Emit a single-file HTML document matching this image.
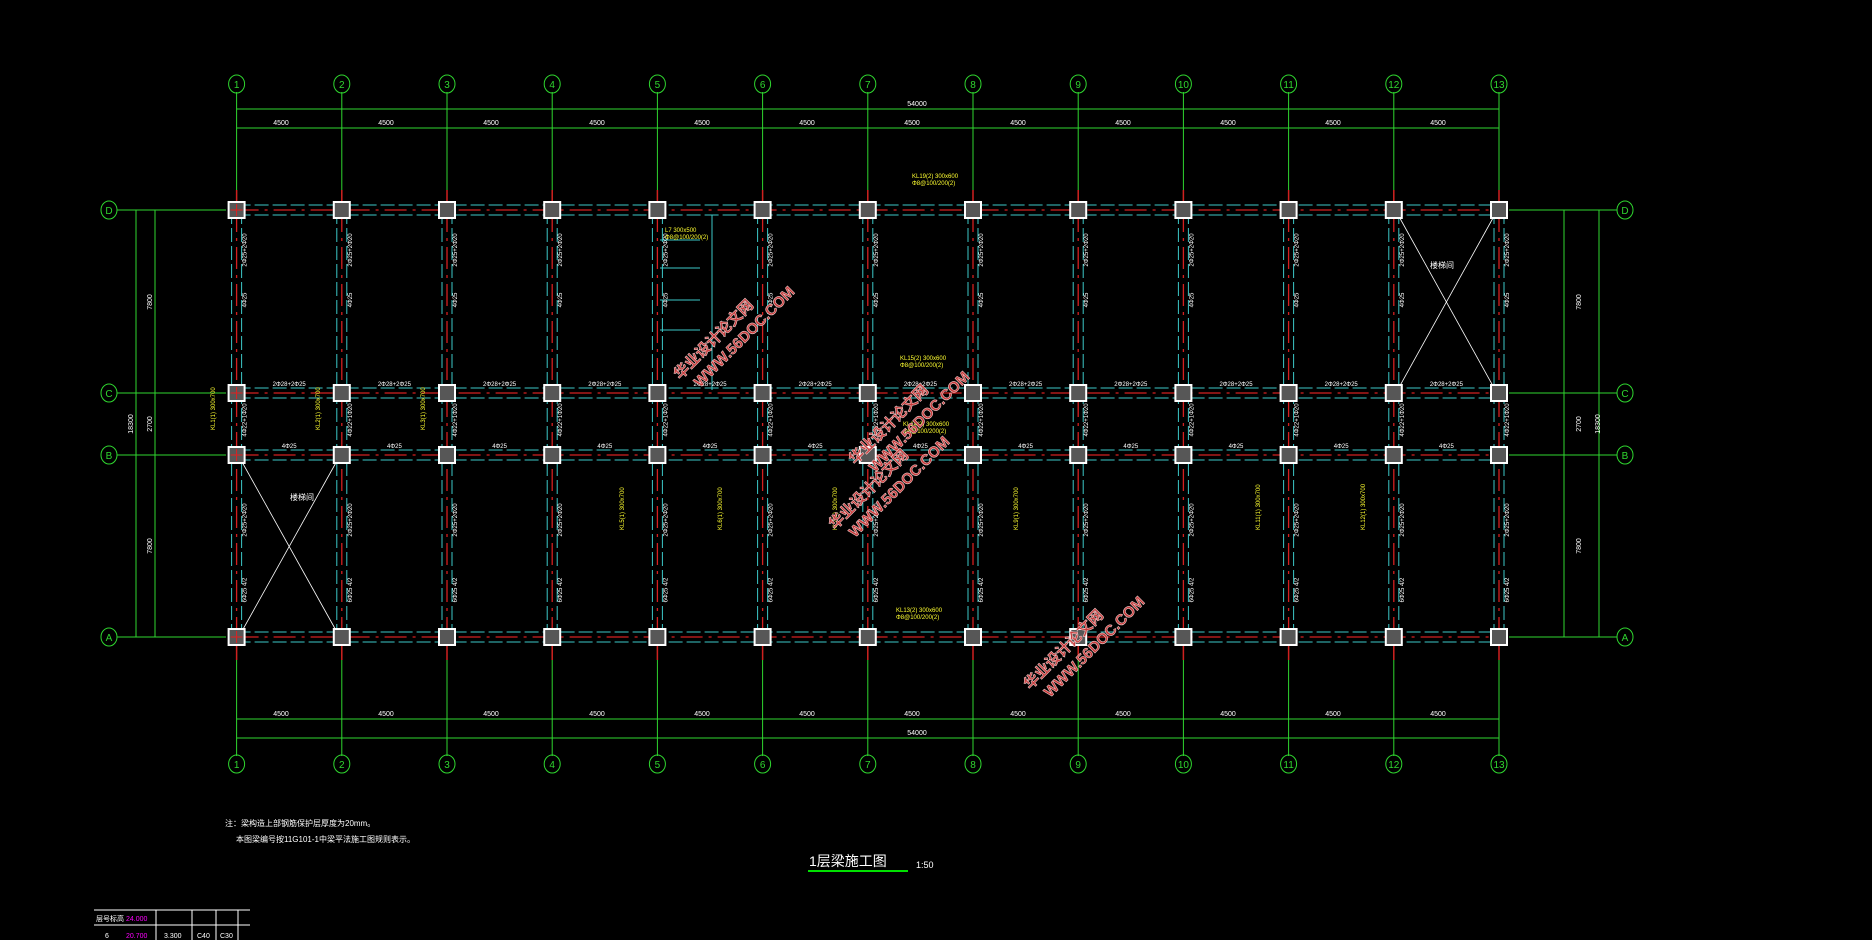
<!DOCTYPE html>
<html><head><meta charset="utf-8"><style>
html,body{margin:0;padding:0;background:#000;width:1872px;height:940px;overflow:hidden}
svg{display:block}
text{font-family:"Liberation Sans","Noto Sans CJK SC",sans-serif}
</style></head><body>
<svg id="s" width="1872" height="940" xmlns="http://www.w3.org/2000/svg">
<g id="geo"></g>
<g fill="#fff" font-size="7">
<text x="281" y="125" text-anchor="middle">4500</text><text x="386" y="125" text-anchor="middle">4500</text><text x="491" y="125" text-anchor="middle">4500</text><text x="597" y="125" text-anchor="middle">4500</text><text x="702" y="125" text-anchor="middle">4500</text><text x="807" y="125" text-anchor="middle">4500</text><text x="912" y="125" text-anchor="middle">4500</text><text x="1018" y="125" text-anchor="middle">4500</text><text x="1123" y="125" text-anchor="middle">4500</text><text x="1228" y="125" text-anchor="middle">4500</text><text x="1333" y="125" text-anchor="middle">4500</text><text x="1438" y="125" text-anchor="middle">4500</text>
<text x="917" y="106" text-anchor="middle">54000</text>
<text x="281" y="716" text-anchor="middle">4500</text><text x="386" y="716" text-anchor="middle">4500</text><text x="491" y="716" text-anchor="middle">4500</text><text x="597" y="716" text-anchor="middle">4500</text><text x="702" y="716" text-anchor="middle">4500</text><text x="807" y="716" text-anchor="middle">4500</text><text x="912" y="716" text-anchor="middle">4500</text><text x="1018" y="716" text-anchor="middle">4500</text><text x="1123" y="716" text-anchor="middle">4500</text><text x="1228" y="716" text-anchor="middle">4500</text><text x="1333" y="716" text-anchor="middle">4500</text><text x="1438" y="716" text-anchor="middle">4500</text>
<text x="917" y="735" text-anchor="middle">54000</text>
<text x="152" y="302" transform="rotate(-90 152 302)" text-anchor="middle">7800</text>
<text x="152" y="424" transform="rotate(-90 152 424)" text-anchor="middle">2700</text>
<text x="152" y="546" transform="rotate(-90 152 546)" text-anchor="middle">7800</text>
<text x="133" y="424" transform="rotate(-90 133 424)" text-anchor="middle">18300</text>
<text x="1581" y="302" transform="rotate(-90 1581 302)" text-anchor="middle">7800</text>
<text x="1581" y="424" transform="rotate(-90 1581 424)" text-anchor="middle">2700</text>
<text x="1581" y="546" transform="rotate(-90 1581 546)" text-anchor="middle">7800</text>
<text x="1600" y="424" transform="rotate(-90 1600 424)" text-anchor="middle">18300</text>
</g>
<g id="lbl" fill="#fff" font-size="6"></g>
<g fill="#fff" font-size="8">
<text x="225" y="826">注：梁构造上部钢筋保护层厚度为20mm。</text>
<text x="236" y="842">本图梁编号按11G101-1中梁平法施工图规则表示。</text>
<text x="290" y="500">楼梯间</text>
<text x="1430" y="268">楼梯间</text>
</g>
<text x="809" y="866" fill="#fff" font-size="14">1层梁施工图</text>
<line x1="808" y1="871" x2="908" y2="871" stroke="#00e000" stroke-width="2"/>
<text x="916" y="868" fill="#fff" font-size="9">1:50</text>
<g stroke="#fff" stroke-width="1" fill="none">
<line x1="94" y1="910" x2="250" y2="910"/><line x1="94" y1="925" x2="250" y2="925"/>
<line x1="156" y1="910" x2="156" y2="940"/><line x1="192" y1="910" x2="192" y2="940"/><line x1="216" y1="910" x2="216" y2="940"/><line x1="238" y1="910" x2="238" y2="940"/>
</g>
<g font-size="7"><text x="96" y="921" fill="#fff">层号标高</text><text x="126" y="921" fill="#f0f">24.000</text>
<text x="105" y="938" fill="#fff">6</text><text x="126" y="938" fill="#f0f">20.700</text><text x="164" y="938" fill="#fff">3.300</text><text x="197" y="938" fill="#fff">C40</text><text x="220" y="938" fill="#fff">C30</text></g>
<g id="wm" font-weight="bold" fill="#c83a3a" stroke="#e8c0c0" stroke-width="0.6" font-size="15"></g>
</svg>
<script>
var NS="http://www.w3.org/2000/svg",g=document.getElementById('geo');
function el(t,a,p){var e=document.createElementNS(NS,t);for(var k in a)e.setAttribute(k,a[k]);(p||g).appendChild(e);return e}
var X=[];for(var i=0;i<13;i++)X.push(236.6+i*105.2);
var Y=[210,393,455,637],R=['D','C','B','A'];
var G='#2fd62f';
X.forEach(function(x,i){
 el('line',{x1:x,y1:92,x2:x,y2:200,stroke:G});
 el('line',{x1:x,y1:647,x2:x,y2:756,stroke:G});
 el('line',{x1:x,y1:190,x2:x,y2:205,stroke:'#d02020','stroke-width':1.5});
 el('line',{x1:x,y1:645,x2:x,y2:660,stroke:'#d02020','stroke-width':1.5});
 [84,764].forEach(function(cy){el('ellipse',{cx:x,cy:cy,rx:8,ry:9,fill:'none',stroke:G});
  var t=el('text',{x:x,y:cy+4,'text-anchor':'middle',fill:G,'font-size':10});t.textContent=i+1;});
});
[109,128,719,738].forEach(function(y){el('line',{x1:X[0],y1:y,x2:X[12],y2:y,stroke:G})});
Y.forEach(function(y,j){
 el('line',{x1:117,y1:y,x2:226,y2:y,stroke:G});el('line',{x1:1509,y1:y,x2:1617,y2:y,stroke:G});
 [109,1625].forEach(function(cx){el('ellipse',{cx:cx,cy:y,rx:8,ry:9,fill:'none',stroke:G});
  var t=el('text',{x:cx,y:y+4,'text-anchor':'middle',fill:G,'font-size':10});t.textContent=R[j];});
});
[136,155,1564,1599].forEach(function(x){el('line',{x1:x,y1:210,x2:x,y2:637,stroke:G})});
var C='#3cc8c8';
Y.forEach(function(y){
 el('line',{x1:X[0],y1:y-5,x2:X[12],y2:y-5,stroke:C,'stroke-dasharray':'14 4'});
 el('line',{x1:X[0],y1:y+5,x2:X[12],y2:y+5,stroke:C,'stroke-dasharray':'14 4'});
 el('line',{x1:X[0],y1:y,x2:X[12],y2:y,stroke:'#d42020','stroke-width':1.3,'stroke-dasharray':'22 6 3 6'});
});
X.forEach(function(x){
 el('line',{x1:x-5,y1:210,x2:x-5,y2:637,stroke:C,'stroke-dasharray':'14 4'});
 el('line',{x1:x+5,y1:210,x2:x+5,y2:637,stroke:C,'stroke-dasharray':'14 4'});
 el('line',{x1:x,y1:210,x2:x,y2:637,stroke:'#d42020','stroke-width':1.3,'stroke-dasharray':'22 6 3 6'});
});
el('line',{x1:X[11]+6,y1:218,x2:X[12]-6,y2:386,stroke:'#fff','stroke-width':0.8});
el('line',{x1:X[12]-6,y1:218,x2:X[11]+6,y2:386,stroke:'#fff','stroke-width':0.8});
el('line',{x1:X[0]+6,y1:463,x2:X[1]-6,y2:630,stroke:'#fff','stroke-width':0.8});
el('line',{x1:X[1]-6,y1:463,x2:X[0]+6,y2:630,stroke:'#fff','stroke-width':0.8});
[[660,240,700,240],[660,268,700,268],[660,300,700,300],[660,330,700,330]].forEach(function(a){el('line',{x1:a[0],y1:a[1],x2:a[2],y2:a[3],stroke:C})});
el('line',{x1:712,y1:215,x2:712,y2:390,stroke:C});
X.forEach(function(x){Y.forEach(function(y){el('rect',{x:x-8,y:y-8,width:16,height:16,fill:'#575757',stroke:'#fff','stroke-width':2});});});
[[0,0],[0,1],[0,2],[0,3]].forEach(function(p){var x=X[p[0]],y=Y[p[1]];el('line',{x1:x-6,y1:y,x2:x+6,y2:y,stroke:'#e02020'});el('line',{x1:x,y1:y-6,x2:x,y2:y+6,stroke:'#e02020'});});
var L=document.getElementById('lbl');
var top=['2Φ25+2Φ22','2Φ25+1Φ22','2Φ25+2Φ20','3Φ25'];
for(var i=0;i<12;i++){var mx=(X[i]+X[i+1])/2;
 [[Y[0],-7,top[0]],[Y[0],12,top[1]],[Y[1],-7,'2Φ28+2Φ25'],[Y[1],12,top[3]],[Y[2],-7,'4Φ25'],[Y[2],12,top[3]],[Y[3],-7,top[0]],[Y[3],12,top[1]]].forEach(function(a){
  var t=el('text',{x:mx,y:a[0]+a[1],'text-anchor':'middle'},L);t.textContent=a[2];});}
X.forEach(function(x,i){[[250,'2Φ25+2Φ20'],[300,'4Φ25'],[420,'4Φ22+1Φ20'],[520,'2Φ25+2Φ20'],[590,'6Φ25 4/2']].forEach(function(a){
 var t=el('text',{x:x+10,y:a[0],transform:'rotate(-90 '+(x+10)+' '+a[0]+')','text-anchor':'middle'},L);t.textContent=a[1];});});
var Yc=[[215,430,'KL1(1) 300x700'],[320,430,'KL2(1) 300x700'],[425,430,'KL3(1) 300x700'],[624,530,'KL5(1) 300x700'],[722,530,'KL6(1) 300x700'],[837,530,'KL7(1) 300x700'],[1018,530,'KL9(1) 300x700'],[1260,530,'KL11(1) 300x700'],[1365,530,'KL12(1) 300x700']];
Yc.forEach(function(a){var t=el('text',{x:a[0],y:a[1],transform:'rotate(-90 '+a[0]+' '+a[1]+')',fill:'#ffff30'},L);t.textContent=a[2];});
[[912,178,'KL19(2) 300x600'],[900,360,'KL15(2) 300x600'],[903,426,'KL14(2) 300x600'],[896,612,'KL13(2) 300x600'],[665,232,'L7 300x500']].forEach(function(a){var t=el('text',{x:a[0],y:a[1],fill:'#ffff30'},L);t.textContent=a[2];var t2=el('text',{x:a[0],y:a[1]+7,fill:'#ffff30'},L);t2.textContent='Φ8@100/200(2)';});
var W=document.getElementById('wm');
[[680,380],[855,465],[835,530],[1030,690]].forEach(function(p){
 var t=el('text',{x:p[0],y:p[1],transform:'rotate(-45 '+p[0]+' '+p[1]+')'},W);t.textContent='华业设计论文网';
 var t2=el('text',{x:p[0]+20,y:p[1]+8,transform:'rotate(-45 '+(p[0]+20)+' '+(p[1]+8)+')'},W);t2.textContent='WWW.56DOC.COM';});
</script>
</body></html>
